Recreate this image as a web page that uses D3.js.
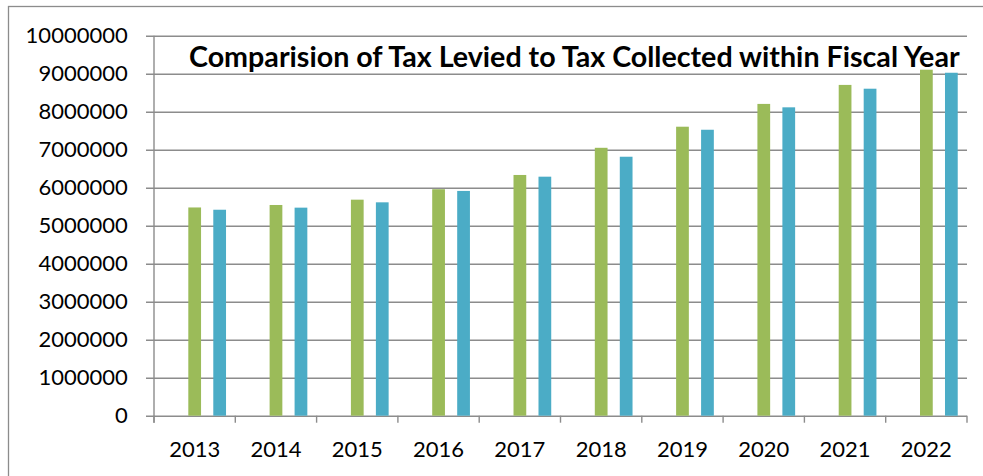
<!DOCTYPE html>
<html>
<head>
<meta charset="utf-8">
<script src="https://cdn.jsdelivr.net/npm/d3@7"></script>
<style>
  html, body { margin: 0; padding: 0; background: #fff; }
  svg { display: block; }
</style>
</head>
<body>
<svg id="chart" width="983" height="476"></svg>
<script>
const years = ["2013","2014","2015","2016","2017","2018","2019","2020","2021","2022"];
const taxLevied    = [5480000, 5545000, 5685000, 5960000, 6335000, 7050000, 7605000, 8205000, 8705000, 9105000];
const taxCollected = [5420000, 5475000, 5615000, 5915000, 6290000, 6815000, 7525000, 8115000, 8605000, 9025000];
const seriesKeys = ["levied", "collected"];
const seriesColors = ["#9BBB59", "#4BACC6"];
const yTicks = [0,1000000,2000000,3000000,4000000,5000000,6000000,7000000,8000000,9000000,10000000];
const titleText = "Comparision of Tax Levied to Tax Collected within Fiscal Year";

const svg = d3.select("#chart");
const W = 983, H = 476;
const plot = { left: 154, right: 967, top: 35.7, bottom: 415.7 };
const FONT = "Lato, 'Open Sans', sans-serif";

// outer chart border
svg.append("rect")
  .attr("x", 8.5).attr("y", 6.5)
  .attr("width", 1000).attr("height", 500)
  .attr("fill", "#fff").attr("stroke", "#8c8c8c").attr("stroke-width", 1.3);

const y = d3.scaleLinear().domain([0, 10000000]).range([plot.bottom, plot.top]);
const x0 = d3.scaleBand().domain(years).range([plot.left, plot.right]).padding(0);
const bw = x0.bandwidth();
const x1 = d3.scaleBand().domain(seriesKeys)
  .range([bw * 0.422, bw * 0.886]).paddingInner(0.49).paddingOuter(0);

// y axis with gridlines
const yAxis = svg.append("g")
  .attr("transform", `translate(${plot.left},0)`)
  .call(d3.axisLeft(y).tickValues(yTicks).tickFormat(d3.format("d"))
    .tickSize(8).tickPadding(18.3));
yAxis.select(".domain").remove();
yAxis.selectAll(".tick line")
  .attr("x1", -8).attr("x2", plot.right - plot.left)
  .attr("stroke", "#8c8c8c").attr("stroke-width", 1.4);
yAxis.selectAll(".tick text")
  .attr("font-family", FONT).attr("font-size", 22).attr("fill", "#000");

// vertical y axis line
svg.append("line")
  .attr("x1", plot.left).attr("x2", plot.left)
  .attr("y1", y(10000000)).attr("y2", plot.bottom + 7)
  .attr("stroke", "#8c8c8c").attr("stroke-width", 1.4);

// x axis labels
const xAxis = svg.append("g")
  .attr("transform", `translate(0,${plot.bottom})`)
  .call(d3.axisBottom(x0).tickSizeInner(0).tickSizeOuter(0).tickPadding(25.4));
xAxis.select(".domain").remove();
xAxis.selectAll(".tick text")
  .attr("font-family", FONT).attr("font-size", 22).attr("fill", "#000");

// category boundary tick marks
svg.append("g").selectAll("line")
  .data(years.concat(["end"]))
  .join("line")
  .attr("x1", d => d === "end" ? plot.right : x0(d))
  .attr("x2", d => d === "end" ? plot.right : x0(d))
  .attr("y1", plot.bottom).attr("y2", plot.bottom + 7)
  .attr("stroke", "#8c8c8c").attr("stroke-width", 1.4);

// bars
const values = { levied: taxLevied, collected: taxCollected };
seriesKeys.forEach((key, si) => {
  svg.append("g").selectAll("rect")
    .data(years.map((yr, i) => ({ yr, v: values[key][i] })))
    .join("rect")
    .attr("x", d => x0(d.yr) + x1(key))
    .attr("width", x1.bandwidth())
    .attr("y", d => y(d.v))
    .attr("height", d => y(0) - y(d.v))
    .attr("fill", seriesColors[si]);
});

// title
const title = svg.append("text")
  .attr("x", 189).attr("y", 66.5)
  .attr("font-family", FONT).attr("font-weight", "bold")
  .attr("font-size", 22).attr("fill", "#000")
  .text(titleText);
const len = title.node().getComputedTextLength();
title.attr("font-size", 22 * 771 / len);
</script>
</body>
</html>
